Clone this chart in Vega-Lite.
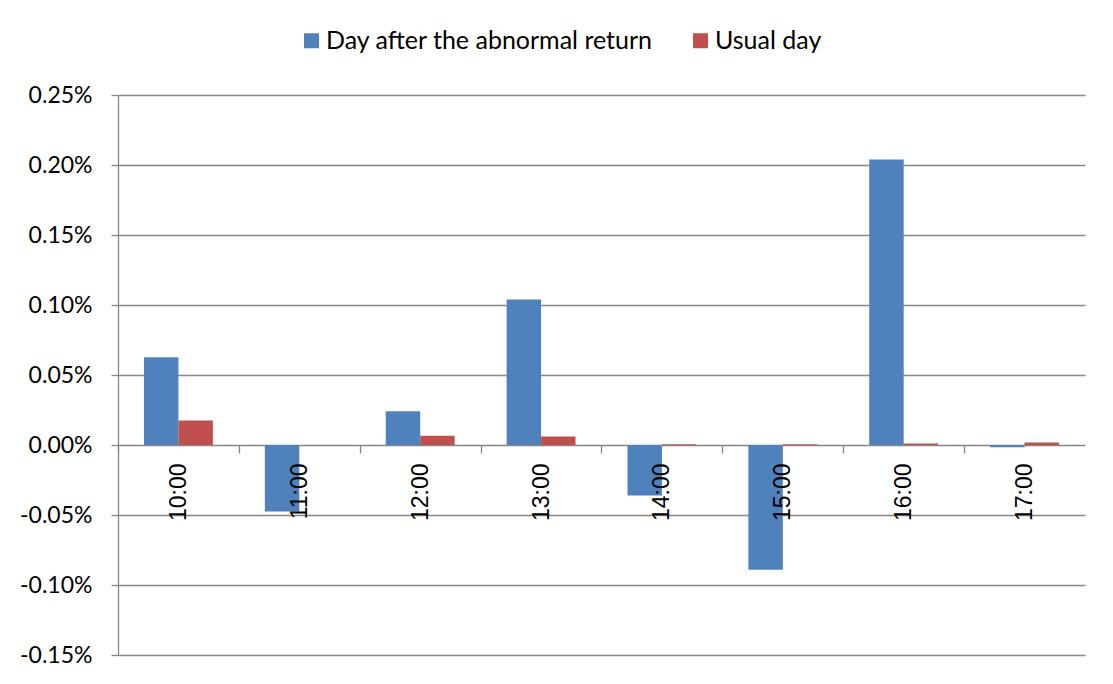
{
  "$schema": "https://vega.github.io/schema/vega-lite/v6.json",
  "width": 967,
  "height": 560,
  "autosize": "none",
  "padding": {"left": 118, "top": 95, "right": 28, "bottom": 29},
  "background": "white",
  "data": {
    "values": [
      {"time": "10:00", "series": "Day after the abnormal return", "value": 0.000627},
      {"time": "10:00", "series": "Usual day", "value": 0.000175},
      {"time": "11:00", "series": "Day after the abnormal return", "value": -0.000475},
      {"time": "11:00", "series": "Usual day", "value": 0.0},
      {"time": "12:00", "series": "Day after the abnormal return", "value": 0.000241},
      {"time": "12:00", "series": "Usual day", "value": 0.000066},
      {"time": "13:00", "series": "Day after the abnormal return", "value": 0.00104},
      {"time": "13:00", "series": "Usual day", "value": 0.000061},
      {"time": "14:00", "series": "Day after the abnormal return", "value": -0.000361},
      {"time": "14:00", "series": "Usual day", "value": 0.000005},
      {"time": "15:00", "series": "Day after the abnormal return", "value": -0.000891},
      {"time": "15:00", "series": "Usual day", "value": 0.000005},
      {"time": "16:00", "series": "Day after the abnormal return", "value": 0.00204},
      {"time": "16:00", "series": "Usual day", "value": 0.00001},
      {"time": "17:00", "series": "Day after the abnormal return", "value": -0.000016},
      {"time": "17:00", "series": "Usual day", "value": 0.000018}
    ]
  },
  "mark": {"type": "bar"},
  "encoding": {
    "x": {
      "field": "time",
      "type": "nominal",
      "sort": null,
      "scale": {"paddingInner": 0.43, "paddingOuter": 0.215},
      "axis": {
        "title": null,
        "zindex": 1,
        "labelAngle": 270,
        "tickOffset": -60.45,
        "labelOffset": 60.45,
        "offset": -210,
        "tickSize": 8,
        "tickColor": "#868686",
        "tickWidth": 1.3,
        "labelPadding": 10,
        "domain": false,
        "labelFont": "Liberation Sans",
        "labelFontSize": 23,
        "labelColor": "black"
      }
    },
    "xOffset": {
      "field": "series",
      "type": "nominal",
      "sort": ["Day after the abnormal return", "Usual day"],
      "scale": {"paddingInner": 0, "paddingOuter": 0}
    },
    "y": {
      "field": "value",
      "type": "quantitative",
      "scale": {"domain": [-0.0015, 0.0025], "nice": false, "zero": false},
      "axis": {
        "title": null,
        "format": ".2%",
        "labelExpr": "replace(datum.label, '\u2212', '-')",
        "values": [-0.0015, -0.001, -0.0005, 0, 0.0005, 0.001, 0.0015, 0.002, 0.0025],
        "grid": true,
        "gridColor": "#868686",
        "gridWidth": 1.3,
        "domainColor": "#868686",
        "domainWidth": 1.3,
        "tickColor": "#868686",
        "tickWidth": 1.3,
        "tickSize": 7,
        "labelPadding": 19,
        "labelFont": "Lato",
        "labelFontSize": 23,
        "labelColor": "black"
      }
    },
    "color": {
      "field": "series",
      "type": "nominal",
      "scale": {
        "domain": ["Day after the abnormal return", "Usual day"],
        "range": ["#4F81BD", "#C0504D"]
      },
      "legend": {
        "title": null,
        "orient": "none",
        "legendX": 181,
        "legendY": -67,
        "direction": "horizontal",
        "symbolType": "square",
        "symbolSize": 225,
        "symbolStrokeWidth": 0,
        "labelFont": "Lato",
        "labelFontSize": 25,
        "labelColor": "black",
        "labelLimit": 0,
        "labelOffset": 2,
        "columnPadding": 34,
        "padding": 0
      }
    }
  },
  "config": {
    "view": {"stroke": null},
    "axis": {"domain": true}
  }
}
